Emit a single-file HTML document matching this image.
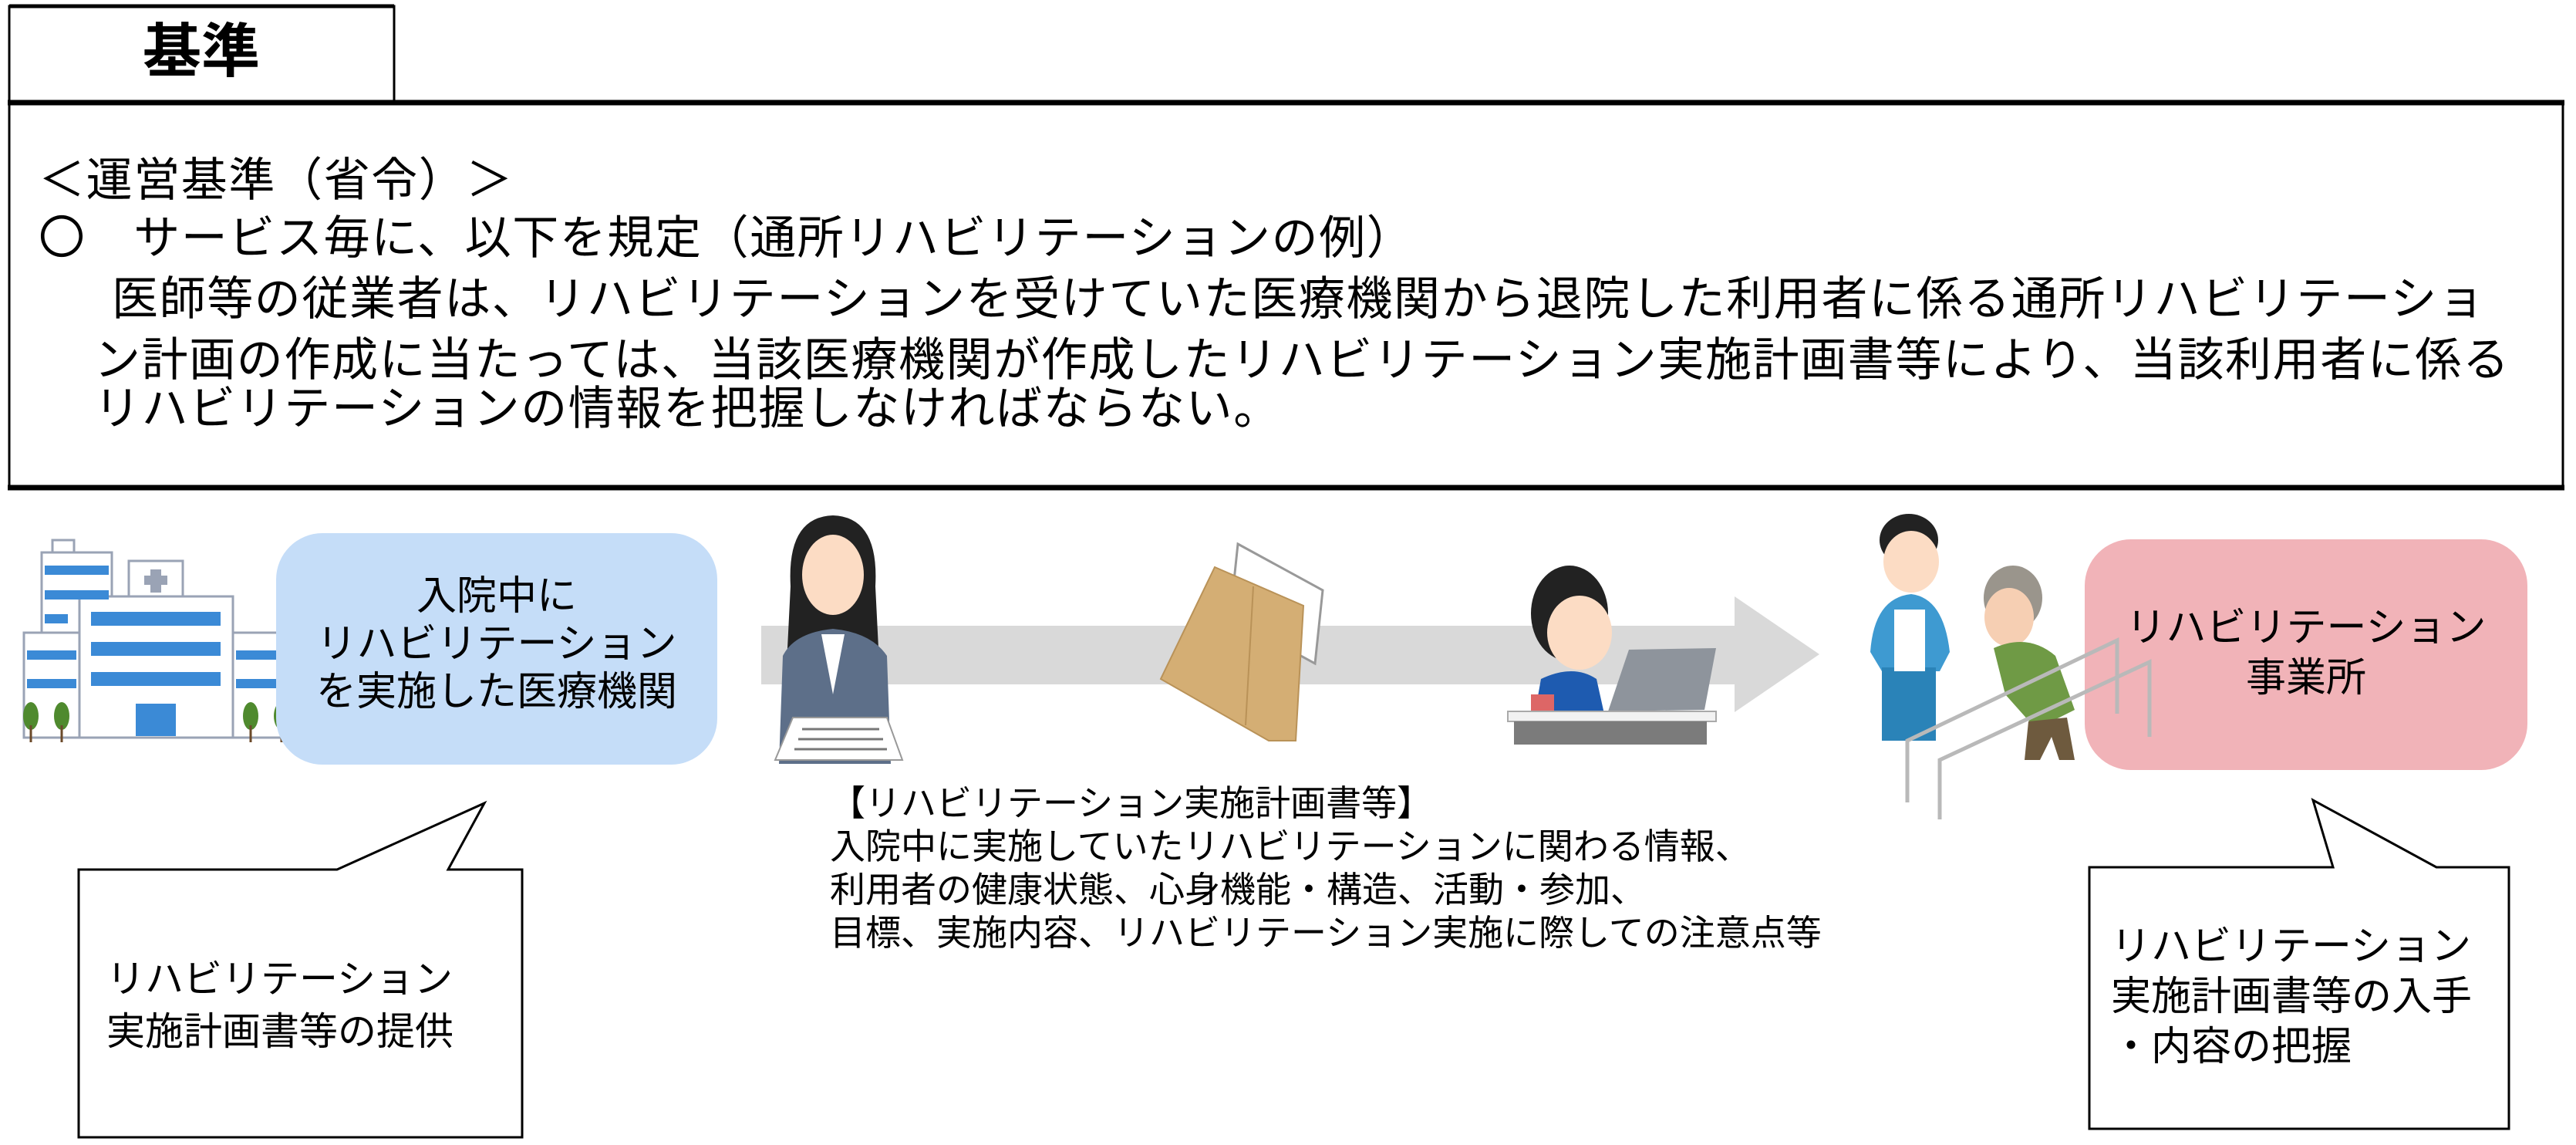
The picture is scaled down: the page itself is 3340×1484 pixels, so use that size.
<!DOCTYPE html>
<html><head><meta charset="utf-8">
<style>
html,body{margin:0;padding:0;background:#fff;}
body{width:3340px;height:1484px;position:relative;overflow:hidden;font-family:"Liberation Sans","Noto Sans CJK JP",sans-serif;color:#000;}
.a{position:absolute;white-space:nowrap;}
.l{font-size:60px;line-height:60px;letter-spacing:1.6px;}
.c{text-align:center;}
</style></head><body>
<svg class="a" style="left:0;top:0" width="3340" height="1484" viewBox="0 0 3340 1484">
  <rect x="12" y="8" width="499" height="124" fill="#fff" stroke="#000" stroke-width="3"/>
  <line x1="12" y1="8" x2="511" y2="8" stroke="#000" stroke-width="5"/>
  <rect x="12" y="133" width="3311" height="500" fill="#fff" stroke="#000" stroke-width="3"/>
  <line x1="10" y1="133" x2="3325" y2="133" stroke="#000" stroke-width="7"/>
  <line x1="10" y1="632" x2="3325" y2="632" stroke="#000" stroke-width="7"/>

  <polygon points="987,811 2249,811 2249,773 2359,848 2249,923 2249,887 987,887" fill="#d9d9d9"/>

  <g stroke="#9aa3b5" stroke-width="3" fill="#fff">
    <rect x="68" y="700" width="28" height="18"/>
    <rect x="54" y="716" width="91" height="106"/>
    <rect x="167" y="727" width="70" height="48"/>
    <rect x="31" y="820" width="72" height="136"/>
    <rect x="302" y="820" width="71" height="136"/>
    <rect x="103" y="773" width="199" height="183"/>
  </g>
  <g fill="#3b8ad6">
    <rect x="58" y="733" width="83" height="12"/><rect x="58" y="765" width="83" height="12"/><rect x="58" y="796" width="30" height="12"/>
    <rect x="118" y="793" width="168" height="18"/><rect x="118" y="832" width="168" height="18"/><rect x="118" y="871" width="168" height="18"/>
    <rect x="35" y="843" width="64" height="12"/><rect x="35" y="880" width="64" height="12"/>
    <rect x="306" y="843" width="63" height="12"/><rect x="306" y="880" width="63" height="12"/>
    <rect x="176" y="912" width="52" height="42"/>
  </g>
  <rect x="195" y="738" width="14" height="30" fill="#9aa3b5"/><rect x="187" y="746" width="30" height="12" fill="#9aa3b5"/>
  <g fill="#4f8a2e"><ellipse cx="40" cy="928" rx="10" ry="18"/><ellipse cx="80" cy="928" rx="10" ry="18"/><ellipse cx="325" cy="928" rx="10" ry="18"/><ellipse cx="365" cy="928" rx="10" ry="18"/></g>
  <g stroke="#6b4a2a" stroke-width="3"><line x1="40" y1="940" x2="40" y2="962"/><line x1="80" y1="940" x2="80" y2="962"/><line x1="325" y1="940" x2="325" y2="962"/><line x1="365" y1="940" x2="365" y2="962"/></g>

  <rect x="358" y="691" width="572" height="300" rx="60" fill="#c5ddf8"/>
  <rect x="2703" y="699" width="574" height="299" rx="60" fill="#f1b3b8"/>

  <path d="M1025,760 Q1020,670 1080,668 Q1140,670 1135,760 L1140,860 L1020,860 Z" fill="#222"/>
  <ellipse cx="1080" cy="745" rx="40" ry="52" fill="#fcdcc4"/>
  <path d="M1010,990 L1015,850 Q1030,820 1080,815 Q1130,820 1150,850 L1155,990 Z" fill="#5d6f89"/>
  <path d="M1065,822 L1080,900 L1095,822 Z" fill="#fff"/>
  <polygon points="1005,985 1028,930 1150,930 1170,985" fill="#fff" stroke="#999" stroke-width="2"/>
  <g stroke="#777" stroke-width="3"><line x1="1040" y1="945" x2="1140" y2="945"/><line x1="1035" y1="958" x2="1145" y2="958"/><line x1="1030" y1="971" x2="1150" y2="971"/></g>

  <!-- envelope upright -->
  <polygon points="1605,705 1715,765 1705,860 1595,800" fill="#fff" stroke="#999" stroke-width="3"/>
  <polygon points="1575,735 1690,785 1680,960 1645,960 1505,880" fill="#d4ae74" stroke="#b99258" stroke-width="2"/>
  <line x1="1625" y1="760" x2="1615" y2="940" stroke="#b99258" stroke-width="2"/>

  <ellipse cx="2035" cy="795" rx="50" ry="62" fill="#222"/>
  <ellipse cx="2048" cy="820" rx="42" ry="48" fill="#fcdcc4"/>
  <path d="M1990,925 L1998,880 Q2040,860 2070,880 L2080,925 Z" fill="#1e5bb0"/>
  <rect x="1985" y="900" width="30" height="25" fill="#d66" />
  <polygon points="2112,842 2225,840 2210,920 2085,922" fill="#8e949c"/>
  <rect x="1955" y="922" width="270" height="13" fill="#f2f2f2" stroke="#aaa" stroke-width="2"/>
  <rect x="1963" y="935" width="250" height="30" fill="#7b7b7b"/>

  <ellipse cx="2475" cy="700" rx="38" ry="34" fill="#222"/>
  <ellipse cx="2478" cy="728" rx="36" ry="40" fill="#fcdcc4"/>
  <path d="M2425,845 Q2430,775 2478,770 Q2520,775 2528,845 L2515,870 L2440,870 Z" fill="#3e9ad1"/>
  <rect x="2440" y="865" width="70" height="95" fill="#2a83b8"/>
  <rect x="2456" y="790" width="40" height="80" fill="#fff"/>
  <ellipse cx="2610" cy="775" rx="38" ry="42" fill="#9a958c"/>
  <ellipse cx="2605" cy="800" rx="32" ry="38" fill="#f6cfb3"/>
  <path d="M2585,840 Q2630,820 2665,850 L2690,920 L2640,945 L2600,900 Z" fill="#6f9a45"/>
  <path d="M2630,935 L2680,930 L2690,985 L2670,985 L2660,955 L2645,985 L2625,985 Z" fill="#6e5a3e"/>
  <g stroke="#b9b9b9" stroke-width="5" fill="none">
    <polyline points="2473,1040 2473,960 2745,830 2745,925"/>
    <polyline points="2515,1062 2515,985 2787,858 2787,955"/>
  </g>

  <polygon points="102,1127 437,1127 628,1041 581,1127 677,1127 677,1474 102,1474" fill="#fff" stroke="#000" stroke-width="3"/>
  <polygon points="2709,1124 3025,1124 2999,1037 3159,1124 3253,1124 3253,1463 2709,1463" fill="#fff" stroke="#000" stroke-width="3"/>
</svg>

<div class="a" style="left:11px;top:28px;width:500px;text-align:center;font-size:76px;line-height:80px;font-weight:bold;">基準</div>

<div class="a l" style="left:50px;top:204px;">＜運営基準（省令）＞</div>
<div class="a l" style="left:50px;top:279px;">〇　サービス毎に、以下を規定（通所リハビリテーションの例）</div>
<div class="a l" style="left:145px;top:358px;">医師等の従業者は、リハビリテーションを受けていた医療機関から退院した利用者に係る通所リハビリテーショ</div>
<div class="a l" style="left:122px;top:437px;">ン計画の作成に当たっては、当該医療機関が作成したリハビリテーション実施計画書等により、当該利用者に係る</div>
<div class="a l" style="left:122px;top:500px;">リハビリテーションの情報を把握しなければならない。</div>

<div class="a c" style="left:358px;width:572px;top:742px;font-size:52px;line-height:62px;">入院中に<br>リハビリテーション<br>を実施した医療機関</div>
<div class="a c" style="left:2703px;width:574px;top:782px;font-size:52px;line-height:65px;">リハビリテーション<br>事業所</div>

<div class="a" style="left:1076px;top:1013px;font-size:46px;line-height:56px;">【リハビリテーション実施計画書等】<br>入院中に実施していたリハビリテーションに関わる情報、<br>利用者の健康状態、心身機能・構造、活動・参加、<br>目標、実施内容、リハビリテーション実施に際しての注意点等</div>

<div class="a" style="left:138px;top:1235px;font-size:50px;line-height:68px;">リハビリテーション<br>実施計画書等の提供</div>
<div class="a" style="left:2737px;top:1195px;font-size:52px;line-height:65px;">リハビリテーション<br>実施計画書等の入手<br>・内容の把握</div>
</body></html>
